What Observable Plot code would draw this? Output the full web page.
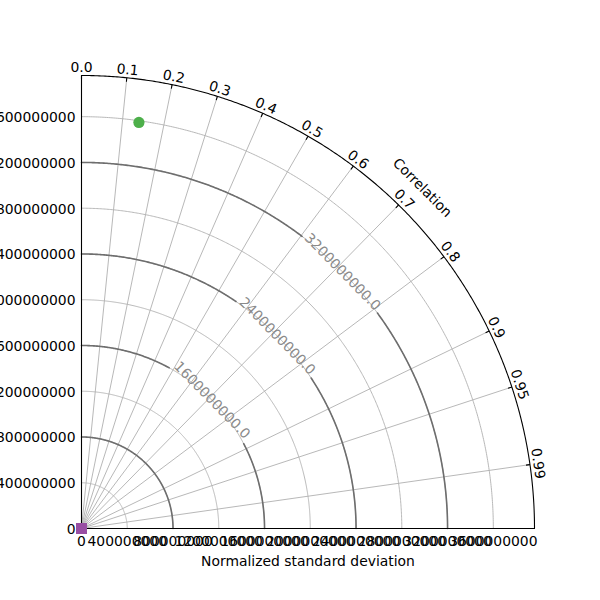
<!DOCTYPE html>
<html><head><meta charset="utf-8">
<script src="https://cdn.jsdelivr.net/npm/d3@7"></script>
<script src="https://cdn.jsdelivr.net/npm/@observablehq/plot@0.6"></script>
<style>body{margin:0;background:#fff}</style>
</head><body><div id="chart"></div>
<script>
// ---- data ----
const names = ["Reference", "Model"];
const stdValues = [0, 3.585e9];
const corrValues = [1.0, 0.14];
const markerColors = ["#984ea3", "#4daf4a"];
const markerSymbols = ["square", "circle"];
const stdTicks = [0, 4e8, 8e8, 1.2e9, 1.6e9, 2e9, 2.4e9, 2.8e9, 3.2e9, 3.6e9];
const corrTicks = [0.0, 0.1, 0.2, 0.3, 0.4, 0.5, 0.6, 0.7, 0.8, 0.9, 0.95, 0.99];
const corrTickLabels = ["0.0", "0.1", "0.2", "0.3", "0.4", "0.5", "0.6", "0.7", "0.8", "0.9", "0.95", "0.99"];
const rmsLevels = [8e8, 1.6e9, 2.4e9, 3.2e9];
const rmsLabeled = [1.6e9, 2.4e9, 3.2e9];
const stdMax = 3.96e9;

// ---- layout helpers ----
const W = 600, H = 600, mL = 81, mR = 66, mT = 75, mB = 72;
const pxPerUnit = (W - mL - mR) / stdMax;
const deg = Math.PI / 180;
function arcPoints(r, a0, a1, key) {
  const pts = [];
  const n = Math.max(2, Math.ceil((a1 - a0) / (0.25 * deg)));
  for (let k = 0; k <= n; k++) {
    const a = a0 + (a1 - a0) * k / n;
    pts.push({x: r * Math.cos(a), y: r * Math.sin(a), key});
  }
  return pts;
}

// grid arcs (std)
const gridArcs = stdTicks.filter(d => d > 0).flatMap(r => arcPoints(r, 0, 90 * deg, "g" + r));
// outer arc
const outerArc = arcPoints(stdMax, 0, 90 * deg, "outer");
// RMS contour arcs with inline label gaps
const labelAngle = 44.5 * deg;
const rmsArcs = rmsLevels.flatMap(r => {
  if (!rmsLabeled.includes(r)) return arcPoints(r, 0, 90 * deg, "c" + r);
  const half = 54 / (r * pxPerUnit);
  return [...arcPoints(r, 0, labelAngle - half, "c" + r + "a"),
          ...arcPoints(r, labelAngle + half, 90 * deg, "c" + r + "b")];
});

const corrAngle = c => Math.acos(c);
const rLabel = stdMax * 461 / 453;
const rTickIn = stdMax * (1 - 4 / 453);
const rTitle = stdMax * 482 / 453;

const marks = [
  Plot.line(gridArcs, {x: "x", y: "y", z: "key", stroke: "#b0b0b0", strokeWidth: 0.9}),
  Plot.link(corrTicks.filter(c => c > 0), {
    x1: 0, y1: 0,
    x2: c => stdMax * Math.cos(corrAngle(c)),
    y2: c => stdMax * Math.sin(corrAngle(c)),
    stroke: "#b0b0b0", strokeWidth: 0.9
  }),
  Plot.line(rmsArcs, {x: "x", y: "y", z: "key", stroke: "#6e6e6e", strokeWidth: 1.6}),
  Plot.text(rmsLabeled, {
    x: r => r * Math.cos(labelAngle), y: r => r * Math.sin(labelAngle),
    text: r => r.toFixed(1), rotate: 90 - 44.5,
    fill: "#8a8a8a", textAnchor: "middle", lineAnchor: "middle"
  }),
  Plot.line(outerArc, {x: "x", y: "y", z: "key", stroke: "black", strokeWidth: 1.1}),
  Plot.ruleY([0], {x1: 0, x2: stdMax, stroke: "black", strokeWidth: 1.1}),
  Plot.ruleX([0], {y1: 0, y2: stdMax, stroke: "black", strokeWidth: 1.1}),
  Plot.link(corrTicks, {
    x1: c => rTickIn * Math.cos(corrAngle(c)), y1: c => rTickIn * Math.sin(corrAngle(c)),
    x2: c => stdMax * Math.cos(corrAngle(c)), y2: c => stdMax * Math.sin(corrAngle(c)),
    stroke: "black", strokeWidth: 1.1
  }),
  Plot.text(corrTicks, {
    x: c => rLabel * Math.cos(corrAngle(c)), y: c => rLabel * Math.sin(corrAngle(c)),
    text: (c, i) => corrTickLabels[i],
    rotate: c => 90 - corrAngle(c) / deg,
    textAnchor: "middle", lineAnchor: "middle", fill: "black"
  }),
  Plot.text(["Correlation"], {
    x: () => rTitle * Math.cos(45 * deg), y: () => rTitle * Math.sin(45 * deg),
    rotate: 45, textAnchor: "middle", lineAnchor: "middle", fill: "black"
  }),
  Plot.axisX({ticks: stdTicks, tickFormat: d => d.toFixed(0), tickSize: 0, tickPadding: 8, label: null}),
  Plot.axisY({ticks: stdTicks, tickFormat: d => d.toFixed(0), tickSize: 0, tickPadding: 6, dy: 1, label: null}),
  Plot.text(["Normalized standard deviation"], {frameAnchor: "bottom", dy: 37, lineAnchor: "bottom", fill: "black"}),
  ...names.map((n, i) => Plot.dot([i], {
    x: j => stdValues[j] * corrValues[j],
    y: j => stdValues[j] * Math.sqrt(1 - corrValues[j] * corrValues[j]),
    fill: markerColors[i], symbol: markerSymbols[i], r: i === 0 ? 6.2 : 5.6,
    title: () => n
  }))
];

const chart = Plot.plot({
  width: W, height: H,
  marginLeft: mL, marginRight: mR, marginTop: mT, marginBottom: mB,
  x: {domain: [0, stdMax]},
  y: {domain: [0, stdMax]},
  style: {fontFamily: "DejaVu Sans", fontSize: "13.9px", background: "white", overflow: "visible"},
  marks
});
document.getElementById("chart").appendChild(chart);
</script>
</body></html>
